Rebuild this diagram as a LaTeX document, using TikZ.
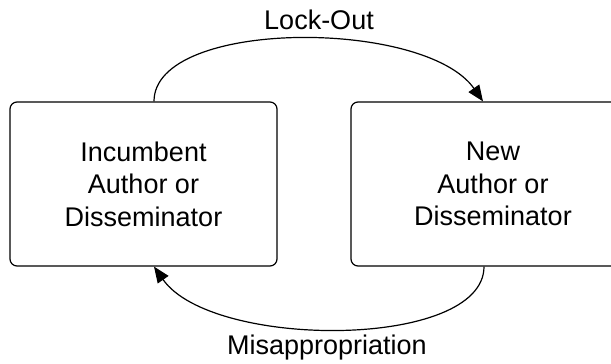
\documentclass[tikz,border=0pt]{standalone}
\usepackage{fontspec}
\setmainfont{Liberation Sans}
\usetikzlibrary{arrows.meta}
\tikzset{party/.style={draw,line width=0.6pt,rounded corners=3.5pt,minimum height=82pt,align=center,font=\fontsize{13.5}{16.25}\selectfont},
flow/.style={line width=0.6pt,-{Triangle[length=8pt,width=6.5pt]}},
lbl/.style={font=\fontsize{13.5}{16.25}\selectfont}}
\begin{document}
\begin{tikzpicture}[x=0.5pt,y=0.5pt]
\useasboundingbox (0,0) rectangle (611,364);
\node[party,minimum width=133.5pt] (incumbent) at (143.5,180) {Incumbent\\Author or\\Disseminator};
\node[party,minimum width=142pt] (entrant) at (493,180) {New\\Author or\\Disseminator};
\coordinate (lockA) at ([xshift=5.25pt]incumbent.north);\coordinate (lockB) at ([xshift=-5pt]entrant.north);
\coordinate (misA) at ([xshift=-4.5pt]entrant.south);\coordinate (misB) at ([xshift=5.25pt]incumbent.south);
\draw[flow] (lockA) .. controls +(0,83) and +(-58,83) .. (lockB);
\draw[flow] (misA) .. controls +(0,-83) and +(58,-83) .. (misB);
\node[lbl] (lockout) at (319,344) {Lock-Out};
\node[lbl] (misapp) at (327,16) {Misappropriation};
\end{tikzpicture}
\end{document}
